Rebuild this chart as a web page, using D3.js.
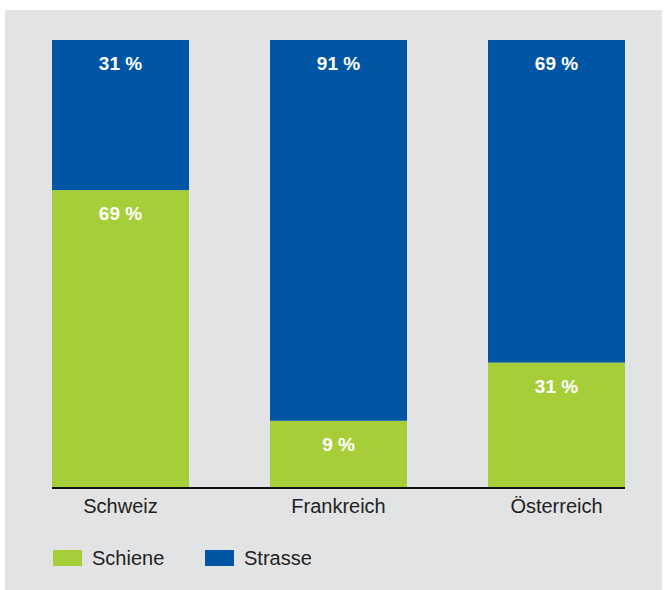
<!DOCTYPE html>
<html>
<head>
<meta charset="utf-8">
<script src="https://cdn.jsdelivr.net/npm/d3@7"></script>
<style>
  html, body { margin: 0; padding: 0; background: #ffffff; }
  svg { display: block; }
</style>
</head>
<body>
<svg id="chart" width="667" height="590"></svg>
<script>
// ---- data ----
const categories = ["Schweiz", "Frankreich", "Österreich"];
const seriesNames = ["Schiene", "Strasse"];
// printed labels
const schieneLabels = ["69 %", "9 %", "31 %"];
const strasseLabels = ["31 %", "91 %", "69 %"];
// bar shares as drawn in the picture (percent of full bar)
const schieneShare = [66.5, 15, 28];
const strasseShare = [33.5, 85, 72];
const colors = ["#a6ce39", "#0055a5"];

const svg = d3.select("#chart");

// background panel
svg.append("rect").attr("x", 5).attr("y", 10).attr("width", 657).attr("height", 580).attr("fill", "#e2e3e5");

const x = d3.scaleBand().domain(categories).range([52, 625]).paddingInner(0.3716).paddingOuter(0);
const y = d3.scaleLinear().domain([0, 100]).range([488, 40]);

const rows = categories.map((c, i) => ({
  cat: c,
  s0: schieneShare[i], s1: strasseShare[i],
  l0: schieneLabels[i], l1: strasseLabels[i]
}));

const g = svg.append("g");

// Schiene (bottom)
g.selectAll(".schiene").data(rows).join("rect")
  .attr("x", d => x(d.cat)).attr("width", x.bandwidth())
  .attr("y", d => y(d.s0)).attr("height", d => y(0) - y(d.s0))
  .attr("fill", colors[0]);

// Strasse (top)
g.selectAll(".strasse").data(rows).join("rect")
  .attr("x", d => x(d.cat)).attr("width", x.bandwidth())
  .attr("y", d => y(d.s0 + d.s1)).attr("height", d => y(d.s0) - y(d.s0 + d.s1))
  .attr("fill", colors[1]);

const labelFont = "'Liberation Sans', Arial, Helvetica, sans-serif";

// value labels
g.selectAll(".lblTop").data(rows).join("text")
  .attr("x", d => x(d.cat) + x.bandwidth() / 2)
  .attr("y", d => y(d.s0 + d.s1) + 30)
  .attr("text-anchor", "middle")
  .attr("fill", "#ffffff").attr("font-weight", "bold")
  .attr("font-family", labelFont).attr("font-size", 19)
  .text(d => d.l1);

g.selectAll(".lblBot").data(rows).join("text")
  .attr("x", d => x(d.cat) + x.bandwidth() / 2)
  .attr("y", d => y(d.s0) + 30)
  .attr("text-anchor", "middle")
  .attr("fill", "#ffffff").attr("font-weight", "bold")
  .attr("font-family", labelFont).attr("font-size", 19)
  .text(d => d.l0);

// x axis
const xAxis = svg.append("g").attr("transform", "translate(0,488)")
  .call(d3.axisBottom(x).tickSize(0).tickPadding(11));
xAxis.select(".domain").attr("stroke", "#111").attr("stroke-width", 2)
  .attr("d", "M52,0H625");
xAxis.selectAll("text")
  .attr("font-family", labelFont).attr("font-size", 20)
  .attr("fill", "#222").attr("dy", "0.71em");

// legend
const legend = svg.append("g").attr("transform", "translate(53,550)");
const legendX = [0, 152];
seriesNames.forEach((name, i) => {
  const lg = legend.append("g").attr("transform", `translate(${legendX[i]},0)`);
  lg.append("rect").attr("width", 29).attr("height", 16).attr("fill", colors[i]);
  lg.append("text").attr("x", 39).attr("y", 15)
    .attr("font-family", labelFont).attr("font-size", 20)
    .attr("fill", "#222").text(name);
});
</script>
</body>
</html>
